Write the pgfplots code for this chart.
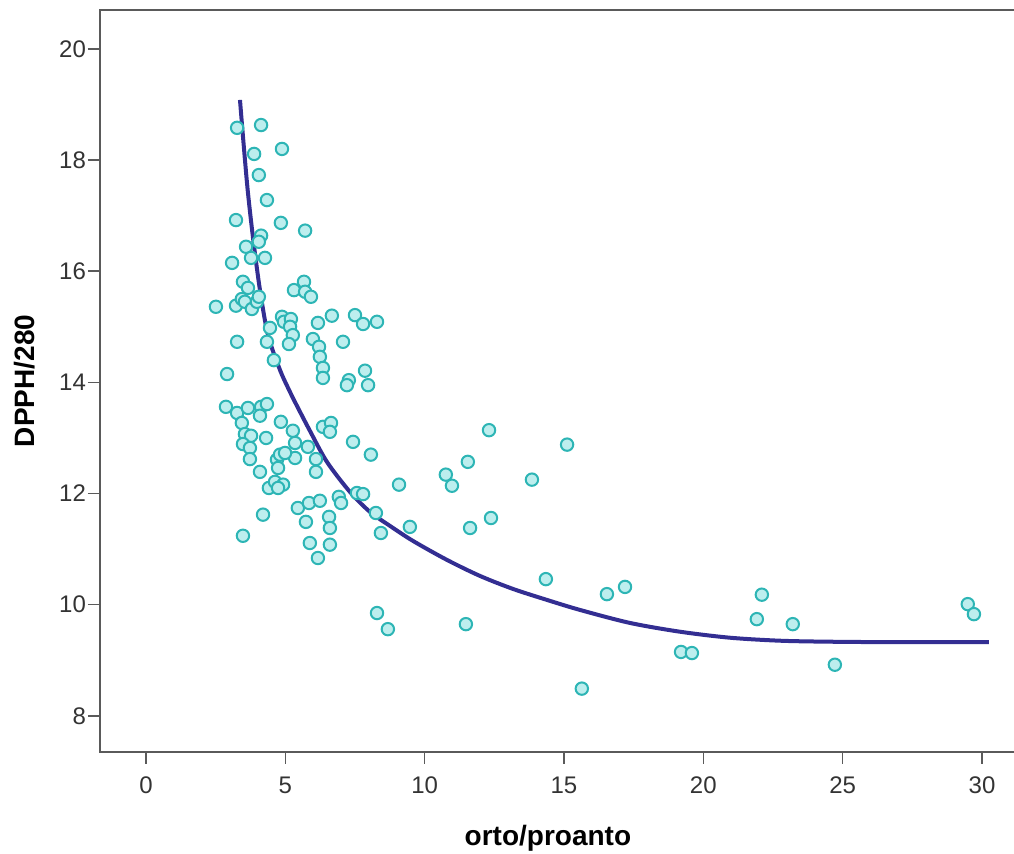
\documentclass[border=0pt]{standalone}
\usepackage{fontspec}
\setmainfont{Liberation Sans}
\usepackage{pgfplots}
\pgfplotsset{compat=1.18}
\definecolor{mfill}{HTML}{BDEEEE}
\definecolor{medge}{HTML}{2DB5B5}
\definecolor{fitline}{HTML}{332E92}
\definecolor{frame}{HTML}{5A5A5A}
\begin{document}
\begin{tikzpicture}
\begin{axis}[
  scale only axis,
  width=458pt, height=371pt,
  xmin=-1.65, xmax=31.22,
  ymin=7.35, ymax=20.70,
  xtick={0,5,...,30}, ytick={8,10,...,20},
  tick pos=left, tick align=outside,
  major tick length=6pt,
  every tick/.style={frame, line width=0.8pt},
  axis line style={frame, line width=1pt},
  /pgf/number format/assume math mode=true,
  ticklabel style={font=\fontsize{12}{14}\selectfont, text=black!80},
  xticklabel style={yshift=-3pt},
  yticklabel style={xshift=2.5pt},
  xlabel={orto/proanto}, ylabel={DPPH/280},
  label style={font=\fontsize{14}{16}\selectfont\bfseries},
  xlabel style={at={(axis description cs:0.489,0)}, anchor=center, yshift=-43pt},
  ylabel style={at={(axis description cs:-0.082,0.5)}, anchor=center},
  clip=false,
]
\addplot[only marks, mark=*, mark size=3.1pt, mark options={fill=mfill, draw=medge, line width=1pt}] coordinates {
(3.27,18.58) (4.13,18.63) (3.88,18.11) (4.88,18.20) (4.05,17.73) (4.34,17.28)
(3.23,16.92) (4.84,16.87) (5.71,16.73) (4.13,16.64) (4.05,16.53) (3.59,16.44)
(4.27,16.24) (3.77,16.24) (3.09,16.15) (3.48,15.81) (3.66,15.70) (5.31,15.66)
(5.67,15.81) (5.71,15.63) (5.92,15.54) (2.51,15.36) (3.23,15.38) (3.44,15.50)
(3.55,15.45) (3.80,15.32) (3.98,15.45) (4.05,15.54) (4.88,15.18) (4.95,15.09)
(5.20,15.14) (5.17,15.00) (5.27,14.85) (4.45,14.98) (5.13,14.69) (4.34,14.73)
(3.27,14.73) (4.59,14.40) (6.17,15.07) (6.67,15.20) (7.50,15.21) (7.79,15.05)
(8.29,15.09) (5.99,14.78) (6.21,14.64) (6.24,14.46) (6.35,14.26) (6.35,14.08)
(7.07,14.73) (7.86,14.21) (7.28,14.04) (7.21,13.95) (7.97,13.95) (2.91,14.15)
(2.87,13.56) (3.27,13.45) (3.66,13.54) (4.13,13.56) (4.34,13.61) (4.09,13.40)
(3.44,13.27) (4.84,13.29) (5.27,13.13) (6.35,13.20) (6.64,13.27) (6.60,13.11)
(3.55,13.07) (3.77,13.04) (4.31,13.00) (3.48,12.89) (3.73,12.82) (3.73,12.62)
(5.35,12.91) (5.35,12.64) (5.81,12.84) (6.10,12.62) (6.10,12.39) (4.09,12.39)
(4.70,12.61) (4.81,12.70) (4.99,12.73) (4.74,12.46) (7.43,12.93) (8.07,12.70)
(4.41,12.10) (4.63,12.21) (4.92,12.16) (4.74,12.10) (5.45,11.74) (5.85,11.83)
(6.24,11.87) (6.92,11.94) (7.00,11.83) (7.57,12.01) (7.79,11.99) (8.25,11.65)
(4.20,11.62) (5.74,11.49) (6.57,11.58) (6.60,11.38) (3.48,11.24) (5.88,11.11)
(6.60,11.08) (6.17,10.84) (9.08,12.16) (9.47,11.40) (8.43,11.29) (10.76,12.34)
(10.98,12.14) (11.55,12.57) (12.31,13.14) (15.11,12.88) (13.85,12.25) (11.63,11.38)
(12.38,11.56) (14.35,10.46) (16.54,10.19) (17.19,10.32) (8.29,9.85) (8.68,9.56)
(11.48,9.65) (15.64,8.49) (19.20,9.15) (19.59,9.13) (21.92,9.74) (22.10,10.18)
(23.21,9.65) (24.72,8.92) (29.49,10.01) (29.71,9.83)
};
\addplot[fitline, line width=2pt, smooth, tension=0.5] coordinates {
(3.373,19.082) (3.491,18.362) (3.649,17.463) (3.850,16.563) (4.090,15.664)
(4.377,14.854) (4.808,14.224) (5.167,13.829) (5.418,13.577) (5.884,13.127)
(6.494,12.569) (7.320,12.029) (8.037,11.670) (8.755,11.418) (9.580,11.148)
(10.800,10.806) (11.984,10.518) (13.168,10.284) (14.388,10.086) (15.572,9.906)
(17.366,9.672) (19.160,9.514) (20.954,9.406) (22.748,9.352) (24.542,9.334)
(27.054,9.325) (30.248,9.325)
};
\end{axis}
\pgfresetboundingbox
\path (-50pt,-51pt) rectangle (457pt,376pt);
\end{tikzpicture}
\end{document}
